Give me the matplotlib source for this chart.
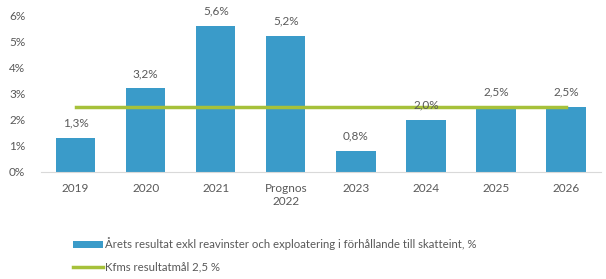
import numpy as np
import matplotlib.pyplot as plt
from matplotlib.patches import Patch
from matplotlib.lines import Line2D

categories = ["2019", "2020", "2021", "Prognos\n2022", "2023", "2024", "2025", "2026"]
resultat = [1.3, 3.2, 5.6, 5.2, 0.8, 2.0, 2.5, 2.5]
mal = [2.5, 2.5, 2.5, 2.5, 2.5, 2.5, 2.5, 2.5]
labels = ["1,3%", "3,2%", "5,6%", "5,2%", "0,8%", "2,0%", "2,5%", "2,5%"]
yticks = [0, 1, 2, 3, 4, 5, 6]

bar_color = "#3A9BC9"
line_color = "#A6C13A"
text_color = "#595959"

plt.rcParams['font.family'] = ['Lato', 'DejaVu Sans']

fig = plt.figure(figsize=(6.06, 2.79), dpi=100)
ax = fig.add_axes([0.067, 0.384, 0.925, 0.562])

x = np.arange(len(categories))
ax.bar(x, resultat, width=0.56, color=bar_color, zorder=2)
ax.plot(x, mal, color=line_color, linewidth=2.5, zorder=3)

for xi, v, lab in zip(x, resultat, labels):
    ax.text(xi, v + 0.35, lab, ha="center", va="bottom", fontsize=8.5, color=text_color)

ax.set_xlim(-0.5, len(categories) - 0.5)
ax.set_ylim(0, 6)
ax.set_yticks(yticks)
ax.set_yticklabels([f"{t}%" for t in yticks])
ax.set_xticks(x)
ax.set_xticklabels(categories)
ax.tick_params(axis="both", length=0, labelsize=8.5, colors=text_color)
ax.tick_params(axis="x", pad=8)
ax.tick_params(axis="y", pad=11)
for s in ["top", "right", "left"]:
    ax.spines[s].set_visible(False)
ax.spines["bottom"].set_color("#D9D9D9")

handles = [Patch(facecolor=bar_color),
           Line2D([0], [0], color=line_color, linewidth=2.5)]
names = ["Årets resultat exkl reavinster och exploatering i förhållande till skatteint, %",
         "Kfms resultatmål 2,5 %"]
leg = fig.legend(handles, names, loc="upper left", bbox_to_anchor=(0.113, 0.165),
                 frameon=False, fontsize=8.2, handlelength=2.6, handleheight=0.5,
                 handletextpad=0.2, labelspacing=0.95, borderaxespad=0)
for t in leg.get_texts():
    t.set_color(text_color)

fig.savefig("out.png", dpi=100)
